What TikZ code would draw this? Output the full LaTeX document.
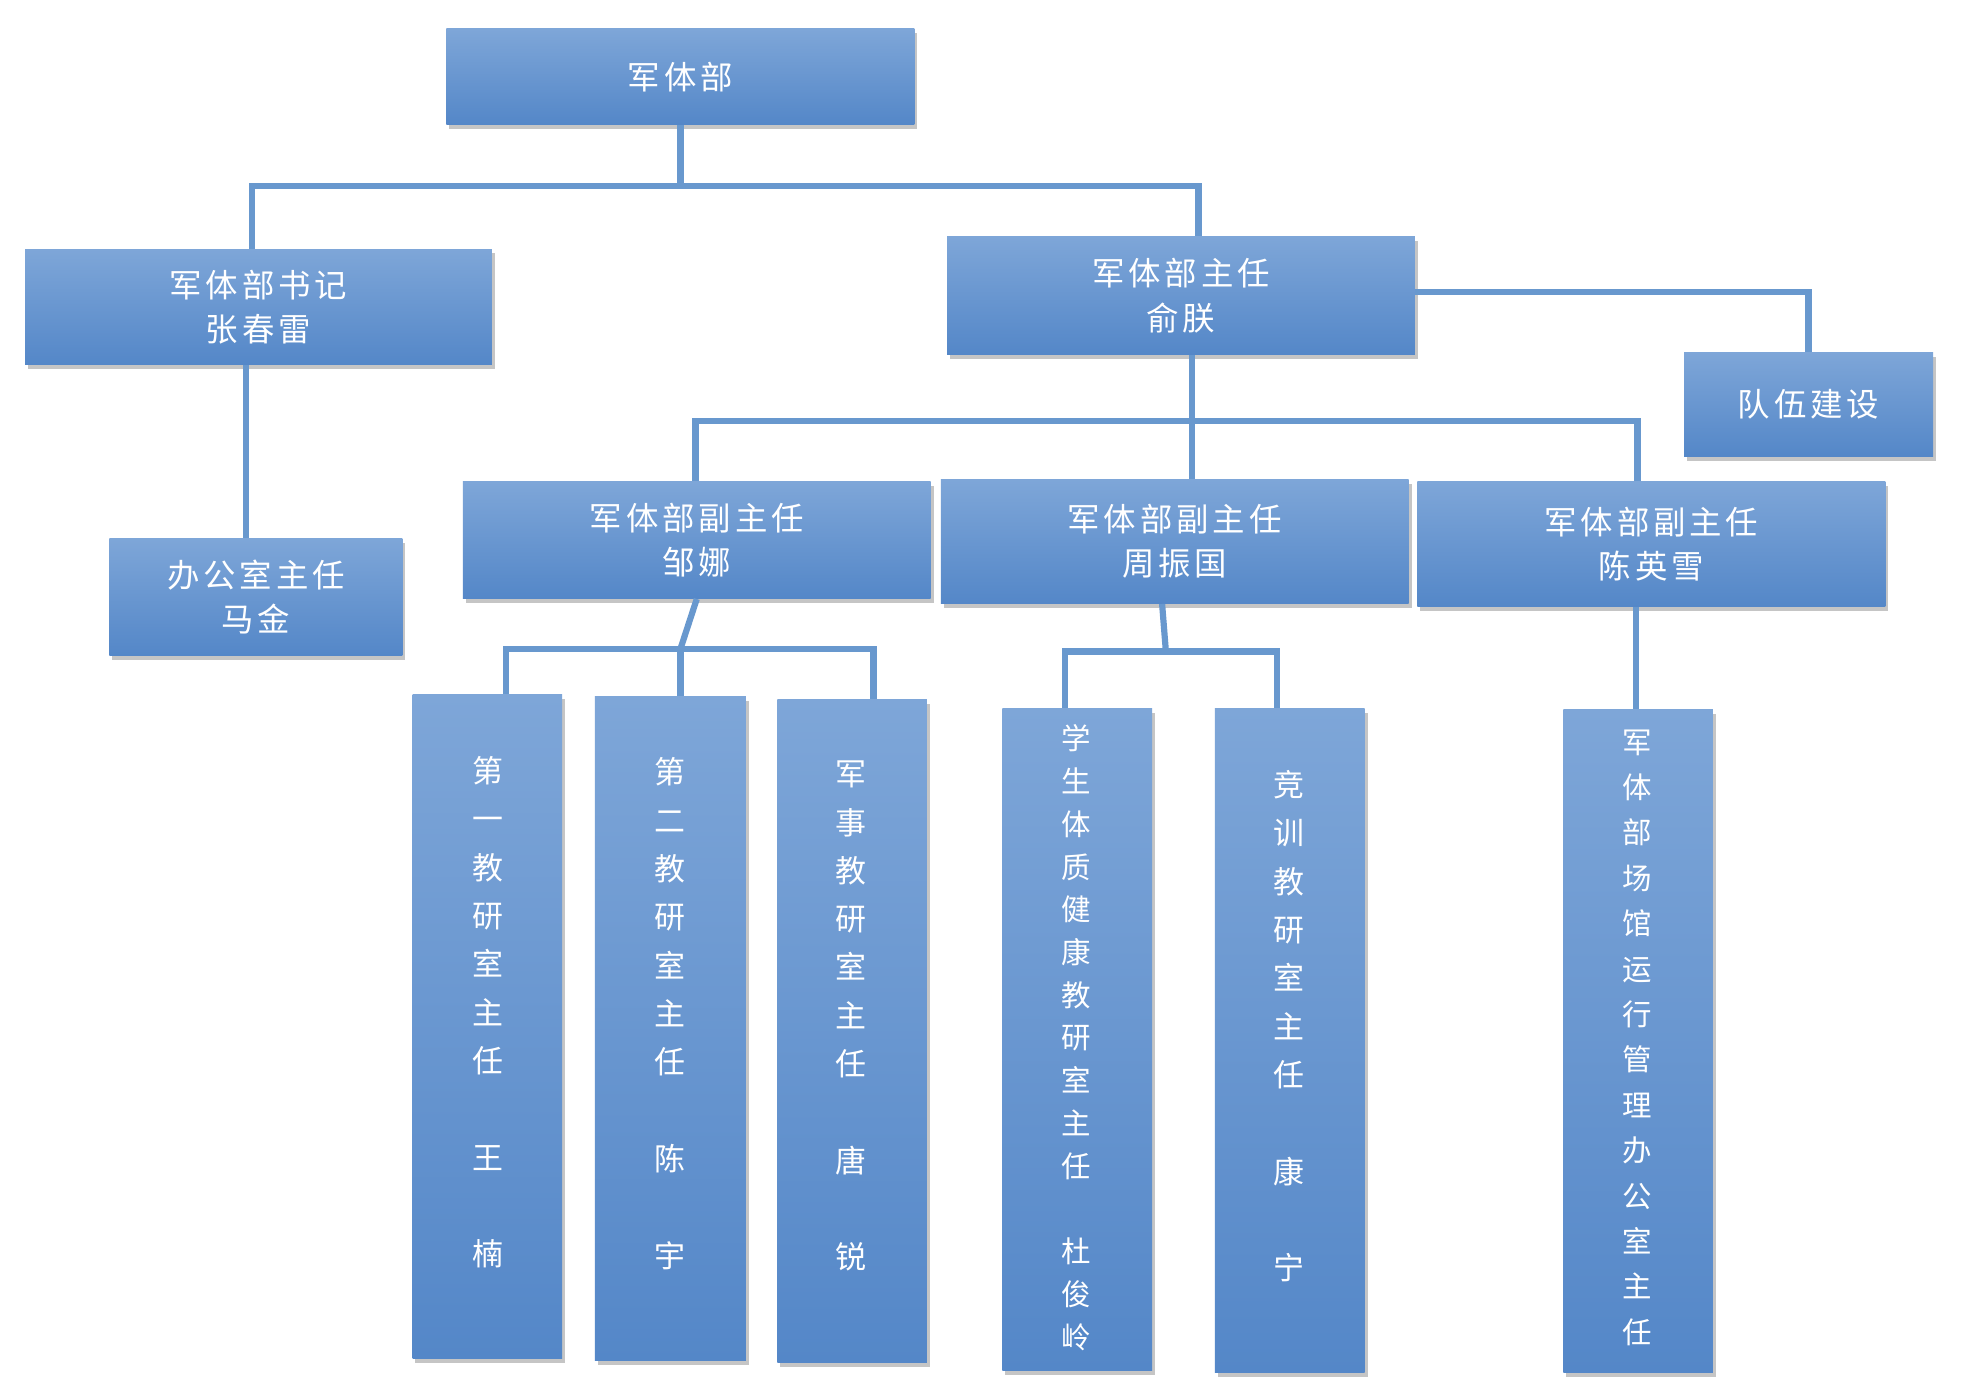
\documentclass[tikz,border=0pt]{standalone}
\usepackage{fontspec}
\newfontfamily\cjk[LetterSpace=12]{Noto Sans CJK SC}
\newfontfamily\cjkv{Noto Sans CJK SC}
\usetikzlibrary{shadows}
\definecolor{ln}{RGB}{104,152,206}
\definecolor{bt}{RGB}{126,166,216}
\definecolor{bb}{RGB}{84,135,200}
\tikzset{
 box/.style={rectangle,inner sep=0pt,top color=bt,bottom color=bb,draw=none,
   drop shadow={shadow xshift=2pt,shadow yshift=-3pt,opacity=0.45},
   text=white,font=\cjk\fontsize{22}{30}\selectfont,align=center},
 vt/.style={text=white,align=center,inner sep=0pt},
 con/.style={draw=ln,line width=4.2pt}
}
\newcommand{\bx}[6]{\node[box,minimum width={(#4-#2)*0.03cm},minimum height={(#5-#3)*0.03cm}] (#1) at ({(#2+#4)/2},{(#3+#5)/2}) {#6};}
\begin{document}
\begin{tikzpicture}[x=0.03cm,y=-0.03cm]
\useasboundingbox (0,0) rectangle (1560,1112);
\fill[white] (0,0) rectangle (1560,1112);
% coordinates for connectors
\coordinate (j1) at (541,148);
\coordinate (j2) at (948,335);
\coordinate (j3) at (541,516);
\coordinate (j4) at (927,518);
% boxes
\bx{top}{355}{23}{727}{99}{军体部}
\bx{sec}{20}{198}{391}{290}{军体部书记\\张春雷}
\bx{dir}{753}{188}{1125}{282}{军体部主任\\俞朕}
\bx{team}{1339}{280}{1537}{363}{队伍建设}
\bx{off}{87}{428}{320}{521}{办公室主任\\马金}
\bx{d1}{368}{383}{740}{476}{军体部副主任\\邹娜}
\bx{d2}{748}{381}{1120}{480}{军体部副主任\\周振国}
\bx{d3}{1127}{383}{1499}{482}{军体部副主任\\陈英雪}
\bx{v1}{328}{552}{447}{1080}{}
\bx{v2}{473}{554}{593}{1082}{}
\bx{v3}{618}{556}{737}{1083}{}
\bx{v4}{797}{563}{916}{1090}{}
\bx{v5}{966}{563}{1085}{1091}{}
\bx{v6}{1243}{564}{1362}{1091}{}
% connectors
\begin{scope}[on background layer/.style={}]
\end{scope}
\draw[con] (top.south) -- (j1);
\draw[con] (j1) -| ([xshift=-5*0.03cm]sec.north);
\draw[con] (j1) -| ([xshift=14*0.03cm]dir.north);
\draw[con] (dir.east |- 0,232) -| (team.north);
\draw[con] ([xshift=-10*0.03cm]sec.south) -- ([xshift=-10*0.03cm]sec.south |- off.north);
\draw[con] ([xshift=9*0.03cm]dir.south) -- (j2);
\draw[con] (j2) -| ([xshift=-1*0.03cm]d1.north);
\draw[con] (j2) -| ([xshift=-11*0.03cm]d3.north);
\draw[con] (j2) -- (j2 |- d2.north);
\draw[con] (d1.south) -- (j3);
\draw[con] (j3) -| ([xshift=15*0.03cm]v1.north);
\draw[con] (j3) -| ([xshift=17*0.03cm]v3.north);
\draw[con] (j3) -- (j3 |- v2.north);
\draw[con] ([xshift=-10*0.03cm]d2.south) -- (j4);
\draw[con] (j4) -| ([xshift=-10*0.03cm]v4.north);
\draw[con] (j4) -| ([xshift=-10*0.03cm]v5.north);
\draw[con] ([xshift=-12*0.03cm]d3.south) -- ([xshift=-12*0.03cm]d3.south |- v6.north);
% vertical texts
\node[vt,font=\cjkv\fontsize{21}{32.8}\selectfont] (t1) at (388,805) {第\\一\\教\\研\\室\\主\\任\\[32.8pt]王\\[32.8pt]楠};
\node[vt,font=\cjkv\fontsize{21}{32.8}\selectfont] (t2) at (533,806) {第\\二\\教\\研\\室\\主\\任\\[32.8pt]陈\\[32.8pt]宇};
\node[vt,font=\cjkv\fontsize{21}{32.8}\selectfont] (t3) at (677,808) {军\\事\\教\\研\\室\\主\\任\\[32.8pt]唐\\[32.8pt]锐};
\node[vt,font=\cjkv\fontsize{20}{29}\selectfont] (t4) at (856,825) {学\\生\\体\\质\\健\\康\\教\\研\\室\\主\\任\\[29pt]杜\\俊\\岭};
\node[vt,font=\cjkv\fontsize{21}{32.8}\selectfont] (t5) at (1025,816) {竞\\训\\教\\研\\室\\主\\任\\[32.8pt]康\\[32.8pt]宁};
\node[vt,font=\cjkv\fontsize{20}{30.8}\selectfont] (t6) at (1302,825) {军\\体\\部\\场\\馆\\运\\行\\管\\理\\办\\公\\室\\主\\任};
\end{tikzpicture}
\end{document}
